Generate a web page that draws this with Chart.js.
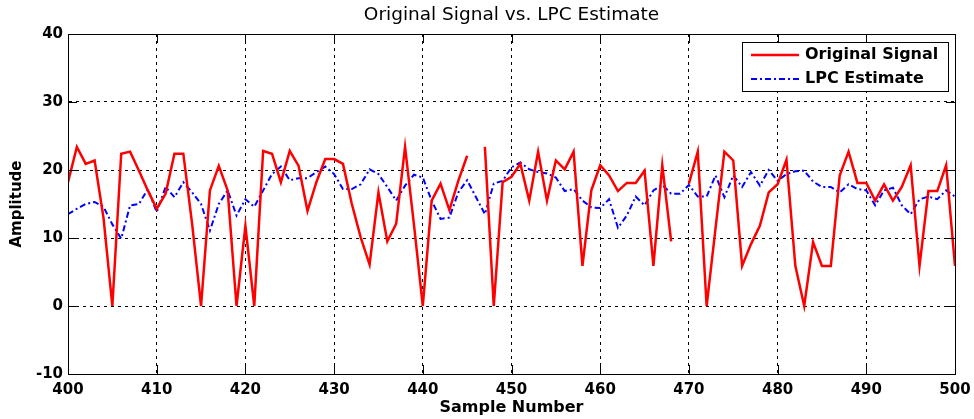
<!DOCTYPE html>
<html>
<head>
<meta charset="utf-8">
<script src="https://cdn.jsdelivr.net/npm/chart.js@4/dist/chart.umd.min.js"></script>
<style>
	html, body { margin: 0; padding: 0; background: #fff; }
	#wrap { width: 974px; height: 419px; }
</style>
</head>
<body>
<div id="wrap"><canvas id="chart" width="974" height="419"></canvas></div>
<script>
const samples = Array.from({ length: 101 }, (_, i) => 400 + i)

const original = [
	18.2, 23.4, 20.9, 21.4, 13, 0, 22.4, 22.7, 19.9, 17,
	14.3, 16.5, 22.4, 22.4, 12, 0, 17, 20.6, 17, 0,
	11.8, 0, 22.8, 22.4, 18.2, 22.8, 20.6, 14, 18.2, 21.6,
	21.6, 20.9, 15, 10.1, 6.1, 16.7, 9.5, 12.1, 23.4, 12,
	0, 15.5, 18, 14.1, 18.4, 22.1, null, 23.4, 0, 18.2,
	19, 20.9, 15.5, 22.7, 15.5, 21.4, 20.1, 22.7, 5.9, 17,
	20.7, 19.2, 16.9, 18.1, 18.1, 19.9, 5.9, 20.7, 9.5, null,
	18, 22.7, 0, 11.4, 22.7, 21.4, 5.9, 9.1, 11.8, 16.7,
	17.9, 21.5, 5.9, 0, 9.4, 5.9, 5.9, 19.2, 22.7, 18.1,
	18.1, 15.5, 17.9, 15.5, 17.5, 20.7, 5.9, 16.9, 16.9, 20.7,
	5.9
]

const estimate = [
	13.5, 14.3, 15, 15.3, 14.6, 12, 9.9, 14.8, 15, 17.2,
	13.8, 17.5, 16, 18.2, 16.7, 15, 11.1, 15, 17, 13.3,
	15.7, 14.6, 17, 19.4, 20.5, 18.5, 18.8, 18.8, 19.7, 20.5,
	19.4, 17.2, 17.2, 17.9, 20.1, 19.4, 17.5, 15.5, 17.7, 19.3,
	18.9, 15.5, 12.8, 13, 16.7, 18.5, 16, 13.5, 18, 18.4,
	20.4, 21.1, 20.1, 19.7, 19.5, 18.9, 16.9, 17.2, 15.5, 14.5,
	14.4, 15.7, 11.5, 13.3, 16.1, 14.8, 17, 17.8, 16.5, 16.5,
	17.8, 16.1, 16.1, 19.2, 16, 19.2, 17.5, 19.7, 17.7, 20,
	18.4, 19.4, 19.8, 19.9, 18.3, 17.5, 17.5, 16.7, 17.9, 17.2,
	17, 14.8, 17, 17.4, 14.8, 13.5, 15.7, 16.1, 15.7, 17,
	16.1
]

const xTicks = [400, 410, 420, 430, 440, 450, 460, 470, 480, 490, 500]
const yTicks = [-10, 0, 10, 20, 30, 40]
const chartTitle = "Original Signal vs. LPC Estimate"

const toPoints = values => values.map((v, i) => ({ x: samples[i], y: v }))

// title over the plot, box, inward tick marks and the legend in the top right corner
const frame = {
	id: "frame",
	afterDraw: chart => {
		const { ctx, chartArea: a, scales } = chart
		ctx.save()
		ctx.fillStyle = "#000"
		ctx.font = "18.5px 'DejaVu Sans', sans-serif"
		ctx.textAlign = "center"
		ctx.textBaseline = "middle"
		ctx.fillText(chartTitle, (a.left + a.right) / 2, 15)

		ctx.strokeStyle = "#000"
		ctx.lineWidth = 1
		ctx.setLineDash([])
		ctx.beginPath()
		xTicks.forEach(t => {
			const x = Math.round(scales.x.getPixelForValue(t)) + 0.5
			ctx.moveTo(x, a.bottom); ctx.lineTo(x, a.bottom - 9)
			ctx.moveTo(x, a.top); ctx.lineTo(x, a.top + 9)
		})
		yTicks.forEach(t => {
			const y = Math.round(scales.y.getPixelForValue(t)) + 0.5
			ctx.moveTo(a.left, y); ctx.lineTo(a.left + 9, y)
			ctx.moveTo(a.right, y); ctx.lineTo(a.right - 9, y)
		})
		ctx.stroke()
		ctx.strokeRect(Math.round(a.left) + 0.5, Math.round(a.top) + 0.5, Math.round(a.right - a.left), Math.round(a.bottom - a.top))

		const lx = 742, ly = 42, lw = 206, lh = 49
		ctx.fillStyle = "#fff"
		ctx.fillRect(lx, ly, lw, lh)
		ctx.strokeRect(lx + 0.5, ly + 0.5, lw, lh)
		ctx.font = "bold 16px 'DejaVu Sans', sans-serif"
		ctx.textAlign = "left"
		chart.data.datasets.forEach((ds, i) => {
			const y = ly + 13 + i * 24
			ctx.strokeStyle = ds.borderColor
			ctx.lineWidth = ds.borderWidth
			ctx.setLineDash(ds.borderDash || [])
			ctx.beginPath()
			ctx.moveTo(lx + 9, y); ctx.lineTo(lx + 57, y)
			ctx.stroke()
			ctx.fillStyle = "#000"
			ctx.fillText(ds.label, lx + 63, y)
		})
		ctx.restore()
	}
}

const tickFont = { family: "'DejaVu Sans', sans-serif", size: 15, weight: "bold" }

new Chart(document.getElementById("chart"), {
	type: "line",
	data: {
		datasets: [{
			label: "Original Signal",
			data: toPoints(original),
			borderColor: "#ff0000",
			backgroundColor: "#ff0000",
			borderWidth: 2.5,
			pointRadius: 0,
			spanGaps: false,
			tension: 0
		}, {
			label: "LPC Estimate",
			data: toPoints(estimate),
			borderColor: "#0000ff",
			backgroundColor: "#0000ff",
			borderWidth: 2,
			borderDash: [6, 3, 2, 3],
			pointRadius: 0,
			tension: 0
		}]
	},
	options: {
		responsive: false,
		animation: false,
		layout: { padding: { left: 0, right: 19, top: 34, bottom: 0 } },
		plugins: {
			legend: { display: false },
			tooltip: { enabled: false },
			title: { display: false }
		},
		scales: {
			x: {
				type: "linear",
				min: 400,
				max: 500,
				afterFit: scale => {
					scale.height = 45
					scale.paddingLeft = 0
					scale.paddingRight = 0
				},
				afterBuildTicks: scale => { scale.ticks = xTicks.map(v => ({ value: v })) },
				ticks: { color: "#000", font: tickFont, padding: 7, maxRotation: 0 },
				grid: { color: "#000", lineWidth: 1, drawTicks: false },
				border: { display: true, color: "#000", dash: [3, 4] },
				title: {
					display: true,
					text: "Sample Number",
					color: "#000",
					font: { family: "'DejaVu Sans', sans-serif", size: 16, weight: "bold" },
					padding: { top: 0, bottom: 2 }
				}
			},
			y: {
				min: -10,
				max: 40,
				afterFit: scale => {
					scale.width = 68
					scale.paddingTop = 0
					scale.paddingBottom = 0
				},
				afterBuildTicks: scale => { scale.ticks = yTicks.map(v => ({ value: v })) },
				ticks: { color: "#000", font: tickFont, padding: 5 },
				grid: { color: "#000", lineWidth: 1, drawTicks: false },
				border: { display: true, color: "#000", dash: [3, 4] },
				title: {
					display: true,
					text: "Amplitude",
					color: "#000",
					font: { family: "'DejaVu Sans', sans-serif", size: 15, weight: "bold" },
					padding: { top: 8, bottom: 0 }
				}
			}
		}
	},
	plugins: [frame]
})
</script>
</body>
</html>
